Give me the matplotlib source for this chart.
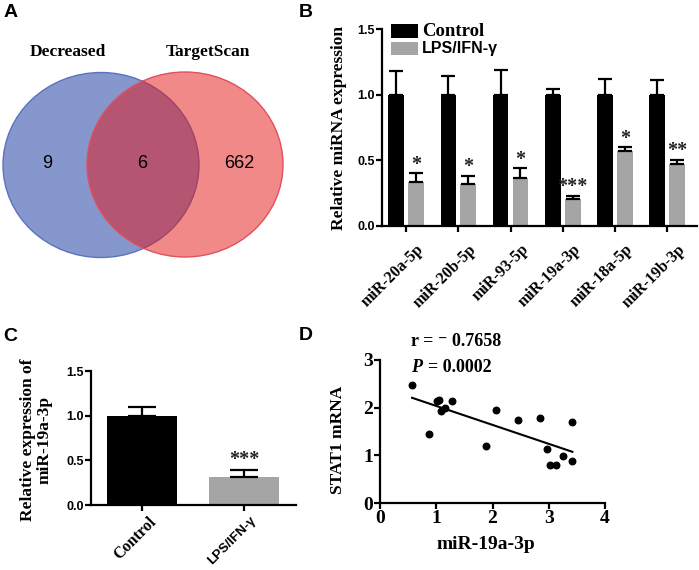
import numpy as np
import matplotlib
matplotlib.use("Agg")
import matplotlib.pyplot as plt
import matplotlib.transforms as mtransforms
from matplotlib.patches import Ellipse

SERIF = ["Liberation Serif", "DejaVu Serif"]
SANS = ["Liberation Sans", "DejaVu Sans"]

# ---- data ----
# A: Venn counts
venn_names = ["Decreased", "TargetScan"]
venn_counts = [9, 6, 662]  # only decreased, both, only TargetScan

# B: miRNA expression
mirnas = ["miR-20a-5p", "miR-20b-5p", "miR-93-5p", "miR-19a-3p", "miR-18a-5p", "miR-19b-3p"]
ctrl_mean = [1.0, 1.0, 1.0, 1.0, 1.0, 1.0]
ctrl_err = [0.18, 0.145, 0.19, 0.045, 0.12, 0.11]
lps_mean = [0.337, 0.32, 0.367, 0.205, 0.572, 0.473]
lps_err = [0.063, 0.06, 0.071, 0.023, 0.028, 0.033]
b_stars = ["*", "*", "*", "***", "*", "**"]

# C: miR-19a-3p
c_groups = ["Control", "LPS/IFN-\u03b3"]
c_mean = [1.0, 0.313]
c_err = [0.10, 0.075]

# D: correlation
d_x = [0.57, 0.88, 1.01, 1.05, 1.09, 1.16, 1.28, 1.89, 2.07, 2.45, 2.85,
       2.97, 3.02, 3.12, 3.25, 3.42, 3.42]
d_y = [2.47, 1.44, 2.14, 2.17, 1.93, 2.00, 2.14, 1.20, 1.95, 1.75, 1.78,
       1.14, 0.80, 0.80, 0.98, 1.69, 0.88]

W, H = 699, 570
fig = plt.figure(figsize=(W / 100, H / 100), dpi=100)


def px_axes(l, t, r, b):
    return fig.add_axes([l / W, (H - b) / H, (r - l) / W, (b - t) / H])


def style(ax):
    for s in ["top", "right"]:
        ax.spines[s].set_visible(False)
    for s in ["left", "bottom"]:
        ax.spines[s].set_linewidth(1.6)
    ax.tick_params(width=1.6, length=4, direction="out")


def shift_labels(labels, dx, dy):
    for t in labels:
        t.set_transform(t.get_transform() +
                        mtransforms.ScaledTranslation(dx / 100, dy / 100,
                                                      fig.dpi_scale_trans))


# ---- panel letters ----
for lab, x, y in [("A", 4, 4), ("B", 299, 4), ("C", 3, 328), ("D", 299, 327)]:
    fig.text(x / W, 1 - y / H, lab, family=SANS, fontweight="bold",
             fontsize=14, va="top", ha="left")

# ---- A: Venn ----
axA = px_axes(0, 0, 330, 290)
axA.set_xlim(0, 330)
axA.set_ylim(290, 0)
axA.axis("off")
axA.add_patch(Ellipse((101, 165), 196, 185, facecolor="#0f319f", alpha=0.5,
                      edgecolor="none"))
axA.add_patch(Ellipse((101, 165), 196, 185, facecolor="none",
                      edgecolor="#5b73bf", lw=1))
axA.add_patch(Ellipse((185, 164.5), 196, 185, facecolor="#e51515", alpha=0.5,
                      edgecolor="none"))
axA.add_patch(Ellipse((185, 164.5), 196, 185, facecolor="none",
                      edgecolor="#e0505f", lw=1))
axA.text(68, 52, venn_names[0], family=SERIF, fontweight="bold", fontsize=12.5,
         ha="center", va="center")
axA.text(208, 52, venn_names[1], family=SERIF, fontweight="bold", fontsize=12.5,
         ha="center", va="center")
for cx, n in zip([47, 142, 239], venn_counts):
    axA.text(cx, 164, str(n), family=SANS, fontsize=13, ha="center", va="center")

# ---- B: bar chart ----
axB = px_axes(382, 29, 697, 226)
style(axB)
xb = np.arange(len(mirnas))
bw = 0.3
off = 0.19
axB.bar(xb - off, ctrl_mean, bw, color="black", label="Control")
axB.bar(xb + off, lps_mean, bw, color="#a5a5a5", label="LPS/IFN-\u03b3")
axB.errorbar(xb - off, ctrl_mean, yerr=[np.zeros(6), ctrl_err], fmt="none",
             ecolor="black", elinewidth=1.6, capsize=5, capthick=1.6)
axB.errorbar(xb + off, lps_mean, yerr=[np.zeros(6), lps_err], fmt="none",
             ecolor="black", elinewidth=1.6, capsize=5, capthick=1.6)
for i, s in enumerate(b_stars):
    axB.text(xb[i] + off, lps_mean[i] + lps_err[i] - 0.01, s, family=SERIF,
             fontweight="bold", fontsize=14.5, ha="center", va="bottom",
             color="#222222")
axB.set_xlim(-0.46, 5.57)
axB.set_ylim(0, 1.5)
axB.set_yticks([0, 0.5, 1.0, 1.5])
axB.set_yticklabels(["0.0", "0.5", "1.0", "1.5"], family=SANS,
                    fontweight="bold", fontsize=9)
axB.set_xticks(xb)
axB.set_xticklabels(mirnas, family=SERIF, fontweight="bold", fontsize=11.5,
                    rotation=45, ha="right", rotation_mode="anchor")
shift_labels(axB.get_xticklabels(), 10, -5)
axB.tick_params(axis="y", pad=1)
axB.set_ylabel("Relative miRNA expression", family=SERIF, fontweight="bold",
               fontsize=12.5)
axB.yaxis.set_label_coords(-0.112, 0.5)
leg = axB.legend(loc="upper left", bbox_to_anchor=(0.01, 1.06), frameon=False,
                 handlelength=2.0, handleheight=1.1, handletextpad=0.25,
                 labelspacing=0.1, borderaxespad=0.2, borderpad=0.2)
leg.get_texts()[0].set_family(SERIF)
leg.get_texts()[0].set_fontweight("bold")
leg.get_texts()[0].set_fontsize(13.5)
leg.get_texts()[1].set_family(SANS)
leg.get_texts()[1].set_fontweight("bold")
leg.get_texts()[1].set_fontsize(11.5)

# ---- C: bar chart ----
axC = px_axes(91, 371, 296, 505)
style(axC)
xc = np.arange(len(c_groups))
axC.bar(xc, c_mean, 0.69, color=["black", "#a5a5a5"])
axC.errorbar(xc, c_mean, yerr=[np.zeros(2), c_err], fmt="none", ecolor="black",
             elinewidth=1.6, capsize=10, capthick=1.6)
axC.text(xc[1], c_mean[1] + c_err[1] + 0.0, "***", family=SERIF,
         fontweight="bold", fontsize=14.5, ha="center", va="bottom",
         color="#222222")
axC.set_xlim(-0.5, 1.51)
axC.set_ylim(0, 1.5)
axC.set_yticks([0, 0.5, 1.0, 1.5])
axC.set_yticklabels(["0.0", "0.5", "1.0", "1.5"], family=SANS,
                    fontweight="bold", fontsize=9)
axC.tick_params(axis="y", pad=1)
axC.set_xticks(xc)
axC.set_xticklabels(c_groups, fontweight="bold", fontsize=11.5, rotation=45,
                    ha="right", rotation_mode="anchor")
axC.get_xticklabels()[0].set_family(SERIF)
axC.get_xticklabels()[1].set_family(SANS)
axC.get_xticklabels()[1].set_fontsize(9.5)
shift_labels(axC.get_xticklabels(), 6, 1)
axC.set_ylabel("Relative expression of\nmiR-19a-3p", family=SERIF,
               fontweight="bold", fontsize=12.5, linespacing=1.0)
axC.yaxis.set_label_coords(-0.19, 0.485)

# ---- D: scatter ----
axD = px_axes(380, 360, 605, 503)
style(axD)
axD.scatter(d_x, d_y, s=22, color="black", zorder=3)
k, b0 = np.polyfit(d_x, d_y, 1)
xl = np.array([min(d_x), max(d_x)])
axD.plot(xl, k * xl + b0, color="black", lw=1.5)
axD.set_xlim(0, 4)
axD.set_ylim(0, 3)
axD.set_xticks([0, 1, 2, 3, 4])
axD.set_yticks([0, 1, 2, 3])
for t in axD.get_xticklabels() + axD.get_yticklabels():
    t.set_family(SERIF)
    t.set_fontweight("bold")
    t.set_fontsize(14)
axD.tick_params(pad=1)
axD.set_xlabel("miR-19a-3p", family=SERIF, fontweight="bold", fontsize=14)
axD.xaxis.set_label_coords(0.47, -0.23)
axD.set_ylabel("STAT1 mRNA", family=SERIF, fontweight="bold", fontsize=12.5)
axD.yaxis.set_label_coords(-0.15, 0.44)
axD.text(0.14, 1.126, "r = \u207b 0.7658", transform=axD.transAxes,
         family=SERIF, fontweight="bold", fontsize=13, va="center", ha="left")
axD.text(0.14, 0.951, "P", transform=axD.transAxes, family=SERIF,
         fontweight="bold", style="italic", fontsize=13, va="center", ha="left")
axD.text(0.212, 0.951, "= 0.0002", transform=axD.transAxes, family=SERIF,
         fontweight="bold", fontsize=13, va="center", ha="left")

fig.savefig("out.png", dpi=100)
